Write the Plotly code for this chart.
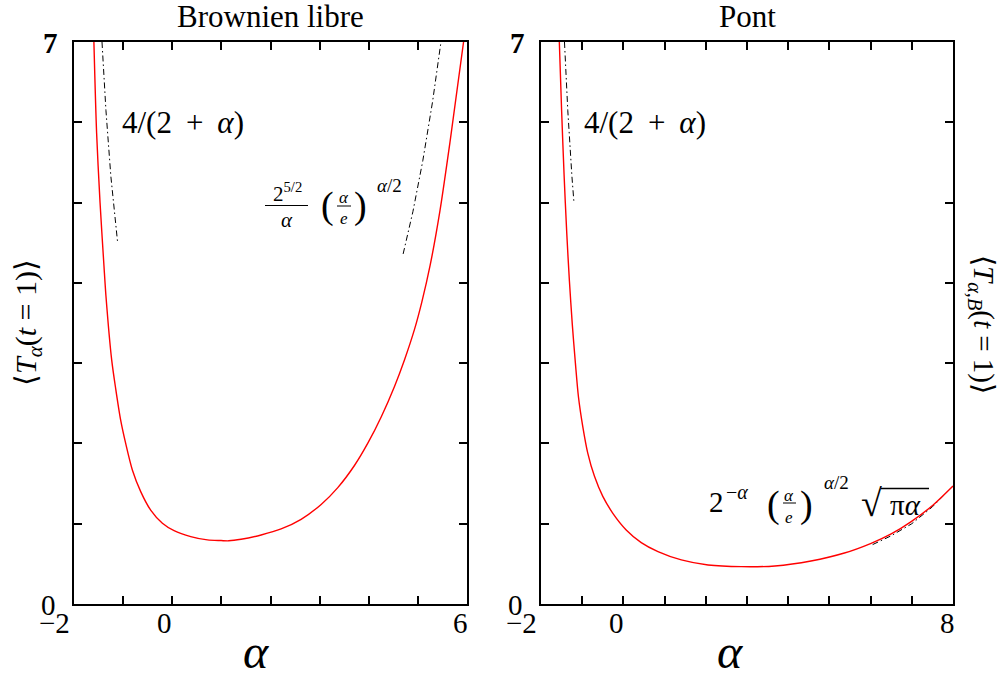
import plotly.graph_objects as go

W, H = 1006, 678
SERIF = "Liberation Serif"

# ---------------- data ----------------
# Left panel: free Brownian motion
free_alpha = [-1.595, -1.54, -1.47, -1.39, -1.35, -1.233, -1.151, -1.05, -0.948, -0.812,
              -0.642, -0.439, -0.201, 0.037, 0.376, 0.716, 0.994, 1.15, 1.401, 1.809,
              2.216, 2.623, 3.031, 3.37, 3.709, 3.981, 4.253, 4.524, 4.727, 4.931,
              5.08, 5.25, 5.45, 5.66, 5.93]
free_T = [7.0, 5.87, 5.0, 4.21, 3.84, 3.04, 2.68, 2.29, 2.0, 1.67,
          1.40, 1.17, 1.006, 0.914, 0.84, 0.798, 0.790, 0.787, 0.806, 0.860,
          0.935, 1.055, 1.240, 1.450, 1.725, 2.003, 2.33, 2.71, 3.04, 3.42,
          3.76, 4.22, 4.90, 5.78, 7.0]
free_asym_low_alpha = [-1.43, -1.35, -1.25, -1.15, -1.11]
free_asym_low_T = [7.0, 6.15, 5.33, 4.71, 4.49]
free_asym_high_alpha = [4.70, 4.90, 5.10, 5.30, 5.47]
free_asym_high_T = [4.36, 4.89, 5.52, 6.26, 7.0]

# Right panel: Brownian bridge
bridge_alpha = [-1.555, -1.50, -1.44, -1.375, -1.31, -1.24, -1.165, -1.092, -0.986, -0.865,
                -0.702, -0.50, -0.256, 0.068, 0.433, 0.839, 1.406, 2.055, 2.866, 3.677,
                4.553, 5.364, 6.013, 6.50, 6.986, 7.473, 8.0]
bridge_T = [7.0, 6.15, 5.35, 4.62, 4.02, 3.48, 3.0, 2.585, 2.21, 1.88,
            1.59, 1.34, 1.13, 0.923, 0.765, 0.653, 0.549, 0.486, 0.465, 0.474,
            0.536, 0.635, 0.756, 0.873, 1.027, 1.214, 1.471]
bridge_asym_low_alpha = [-1.43, -1.35, -1.25, -1.20]
bridge_asym_low_T = [7.0, 6.15, 5.33, 5.0]
bridge_asym_high_alpha = [6.05, 6.5, 7.0, 7.5, 8.0]
bridge_asym_high_T = [0.74, 0.85, 1.00, 1.21, 1.47]

titles = ["Brownien libre", "Pont"]
left_xticks = ["\u22122", "0", "6"]
right_xticks = ["\u22122", "0", "8"]
yticks = ["7", "0"]

# ---------------- figure ----------------
fig = go.Figure()
RED = dict(color="#ff0000", width=1.4, shape="spline", smoothing=0.8)
DD = dict(color="black", width=1, dash="6px,3px,1.5px,3px")

fig.add_trace(go.Scatter(x=free_alpha, y=free_T, mode="lines", line=RED, xaxis="x", yaxis="y"))
fig.add_trace(go.Scatter(x=free_asym_low_alpha, y=free_asym_low_T, mode="lines", line=DD, xaxis="x", yaxis="y"))
fig.add_trace(go.Scatter(x=free_asym_high_alpha, y=free_asym_high_T, mode="lines", line=DD, xaxis="x", yaxis="y"))

fig.add_trace(go.Scatter(x=bridge_asym_high_alpha, y=bridge_asym_high_T, mode="lines", line=DD, xaxis="x2", yaxis="y2"))
fig.add_trace(go.Scatter(x=bridge_alpha, y=bridge_T, mode="lines", line=RED, xaxis="x2", yaxis="y2"))
fig.add_trace(go.Scatter(x=bridge_asym_low_alpha, y=bridge_asym_low_T, mode="lines", line=DD, xaxis="x2", yaxis="y2"))


def px_x(x):
    return x / W


def px_y(y):
    return 1 - y / H


axis_common = dict(showline=True, linewidth=2, linecolor="black", mirror="ticks",
                   ticks="inside", ticklen=8, tickwidth=1.5, tickcolor="black",
                   showgrid=False, zeroline=False, showticklabels=False, dtick=1)

fig.update_layout(
    width=W, height=H,
    margin=dict(l=0, r=0, t=0, b=0),
    paper_bgcolor="white", plot_bgcolor="white",
    showlegend=False,
    xaxis=dict(domain=[px_x(74), px_x(467)], range=[-2, 6], tick0=-2, **axis_common),
    yaxis=dict(domain=[px_y(604), px_y(42)], range=[0, 7], tick0=0, anchor="x", **axis_common),
    xaxis2=dict(domain=[px_x(541), px_x(953)], range=[-2, 8], tick0=-2, anchor="y2", **axis_common),
    yaxis2=dict(domain=[px_y(604), px_y(42)], range=[0, 7], tick0=0, anchor="x2", **axis_common),
)

anns = []


def ann(x, y, text, size, angle=0):
    anns.append(dict(x=px_x(x), y=px_y(y), xref="paper", yref="paper", text=text,
                     showarrow=False, textangle=angle,
                     font=dict(family=SERIF, size=size, color="black"),
                     xanchor="center", yanchor="middle"))


shapes = []


def hline(x0, x1, y, w=1):
    shapes.append(dict(type="line", xref="paper", yref="paper",
                       x0=px_x(x0), x1=px_x(x1), y0=px_y(y), y1=px_y(y),
                       line=dict(color="black", width=w)))


# titles
ann(270, 16, titles[0], 31)
ann(747, 16, titles[1], 31)

# tick labels
ann(50, 43, "<b>" + yticks[0] + "</b>", 29)
ann(48.5, 605, yticks[1], 29)
ann(54, 623, left_xticks[0], 29)
ann(164, 623, left_xticks[1], 29)
ann(460, 623, left_xticks[2], 29)
ann(517, 43, "<b>" + yticks[0] + "</b>", 29)
ann(515.5, 605, yticks[1], 29)
ann(521, 623, right_xticks[0], 29)
ann(616, 623, right_xticks[1], 29)
ann(947, 623, right_xticks[2], 29)

# axis titles
ann(256, 651, "<i>α</i>", 48)
ann(730, 651, "<i>α</i>", 48)
ann(28, 323, "⟨<i>T</i><sub><i>α</i></sub>(<i>t</i> = 1)⟩", 30, -90)
ann(982, 324, "⟨<i>T</i><sub><i>α</i>,<i>B</i></sub>(<i>t</i> = 1)⟩", 29, 90)

# 4/(2+alpha) labels
ann(183, 123, "4/(2 \u2009+\u2009 <i>α</i>)", 31)
ann(645, 123, "4/(2 \u2009+\u2009 <i>α</i>)", 31)

# left: 2^{5/2}/alpha (alpha/e)^{alpha/2}
ann(287, 193, "2<sup>5/2</sup>", 21)
hline(265, 308, 205.5)
ann(287, 220, "<i>α</i>", 21)
ann(327, 205, "(", 38)
ann(344, 197, "<i>α</i>", 17)
hline(337, 351, 206)
ann(344, 219, "<i>e</i>", 17)
ann(360, 205, ")", 38)
ann(389, 185, "<i>α</i>/2", 19)

# right: 2^{-alpha} (alpha/e)^{alpha/2} sqrt(pi alpha)
ann(716, 502, "2", 29)
ann(737, 492, "−<i>α</i>", 20)
ann(773, 504, "(", 38)
ann(789, 495, "<i>α</i>", 17)
hline(783, 796, 503)
ann(789, 517, "<i>e</i>", 17)
ann(806, 504, ")", 38)
ann(836, 482, "<i>α</i>/2", 19)
ann(871, 503, "√", 38)
ann(905, 505, "π<i>α</i>", 29)
hline(881, 929, 488.5, 1.3)

fig.update_layout(annotations=anns, shapes=shapes)

fig.write_html("out.html")
